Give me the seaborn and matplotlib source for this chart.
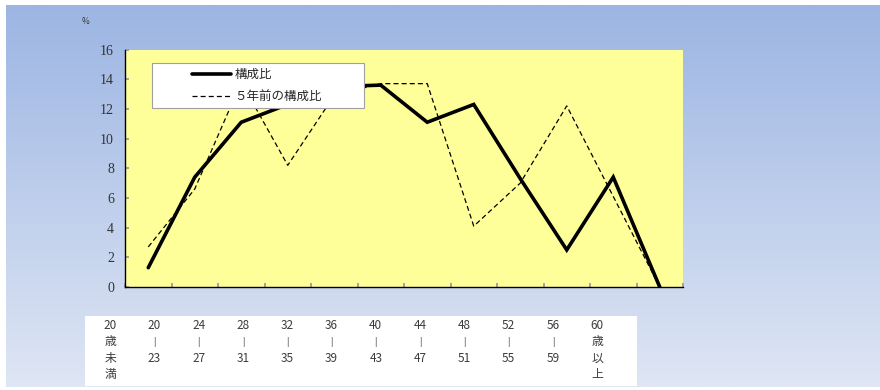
import numpy as np
import pandas as pd
import seaborn as sns
import matplotlib.pyplot as plt
from matplotlib.colors import LinearSegmentedColormap
from matplotlib.patches import Rectangle
from matplotlib.lines import Line2D

# data
categories = ["20歳未満", "20-23", "24-27", "28-31", "32-35", "36-39",
              "40-43", "44-47", "48-51", "52-55", "56-59", "60歳以上"]
share_now = [1.3, 7.4, 11.1, 12.3, 13.5, 13.6, 11.1, 12.3, 7.3, 2.5, 7.4, 0.0]
share_5y = [2.7, 6.6, 13.8, 8.2, 12.9, 13.7, 13.7, 4.1, 7.0, 12.2, 6.1, 0.0]
table_labels = [["20", "歳", "未", "満"], ["20", "|", "23"], ["24", "|", "27"],
                ["28", "|", "31"], ["32", "|", "35"], ["36", "|", "39"],
                ["40", "|", "43"], ["44", "|", "47"], ["48", "|", "51"],
                ["52", "|", "55"], ["56", "|", "59"], ["60", "歳", "以", "上"]]
legend_labels = ["構成比", "５年前の構成比"]

sns.set_theme(style="white")
plt.rcParams['font.family'] = ['Noto Sans CJK JP', 'DejaVu Sans']

W, H = 880, 390
fig = plt.figure(figsize=(W / 100, H / 100), dpi=100)
fig.patch.set_facecolor("white")

# gradient background
bg = fig.add_axes([6 / W, 3 / H, 874 / W, 382 / H], zorder=-5)
bg.axis("off")
cmap = LinearSegmentedColormap.from_list("bg", ["#9cb5e3", "#dfe6f4"])
bg.imshow(np.linspace(0, 1, 256).reshape(-1, 1), aspect="auto", cmap=cmap,
          extent=[0, 1, 0, 1], origin="upper")

# main plot
ax = fig.add_axes([125 / W, 1 - 287 / H, 558 / W, 237.5 / H])
ax.set_facecolor("#ffff99")
df = pd.DataFrame({"pos": np.arange(len(categories)), "now": share_now, "prev": share_5y})
sns.lineplot(data=df, x="pos", y="now", ax=ax, color="black", lw=2.6,
             solid_joinstyle="miter")
sns.lineplot(data=df, x="pos", y="prev", ax=ax, color="black", lw=0.9,
             linestyle=(0, (4, 2.5)))

ax.set_xlim(-0.5, len(categories) - 0.5)
ax.set_ylim(0, 16)
ax.set_xticks(np.arange(-0.5, len(categories), 1))
ax.set_xticklabels([])
ax.set_yticks(range(0, 17, 2))
ax.set_xlabel("")
ax.set_ylabel("")
ax.tick_params(axis="x", direction="in", length=3, color="#999999", bottom=True)
ax.tick_params(axis="y", direction="in", length=3, color="#999999", left=True,
               pad=8, labelsize=10, labelcolor="#333333")
for lab in ax.get_yticklabels():
    lab.set_family("Liberation Serif")
for s in ["top", "right"]:
    ax.spines[s].set_visible(False)
for s in ["left", "bottom"]:
    ax.spines[s].set_color("black")
    ax.spines[s].set_linewidth(1.0)

# legend box
fig.add_artist(Rectangle((152 / W, 1 - 108 / H), 212 / W, 45 / H,
                         transform=fig.transFigure, facecolor="white",
                         edgecolor="#a0a0a0", lw=0.8, zorder=3))
handles = [Line2D([], [], color="black", lw=2.6),
           Line2D([], [], color="black", lw=0.9, linestyle=(0, (4, 2.5)))]
fig.legend(handles, legend_labels, loc="upper left",
           bbox_to_anchor=(192 / W, 1 - 68 / H), frameon=False, fontsize=9,
           handlelength=3.1, handletextpad=0.3, borderpad=0, borderaxespad=0,
           labelspacing=0.75)

fig.text(85 / W, 1 - 22 / H, "%", fontsize=6, color="#333333", ha="center", va="center")

# category table under the chart
tab = fig.add_axes([85 / W, 1 - 386 / H, 552 / W, 70 / H])
tab.set_facecolor("white")
tab.set_xlim(0, 552)
tab.set_ylim(70, 0)
tab.set_xticks([])
tab.set_yticks([])
for s in tab.spines.values():
    s.set_visible(False)
for i, lines in enumerate(table_labels):
    for r, t in enumerate(lines):
        tab.text(25 + i * 44.3, 9.5 + r * 16.3, t, ha="center", va="center",
                 fontsize=8.5 if t != "|" else 6.5, color="#3c3c3c")

fig.savefig("out.png", dpi=100)
